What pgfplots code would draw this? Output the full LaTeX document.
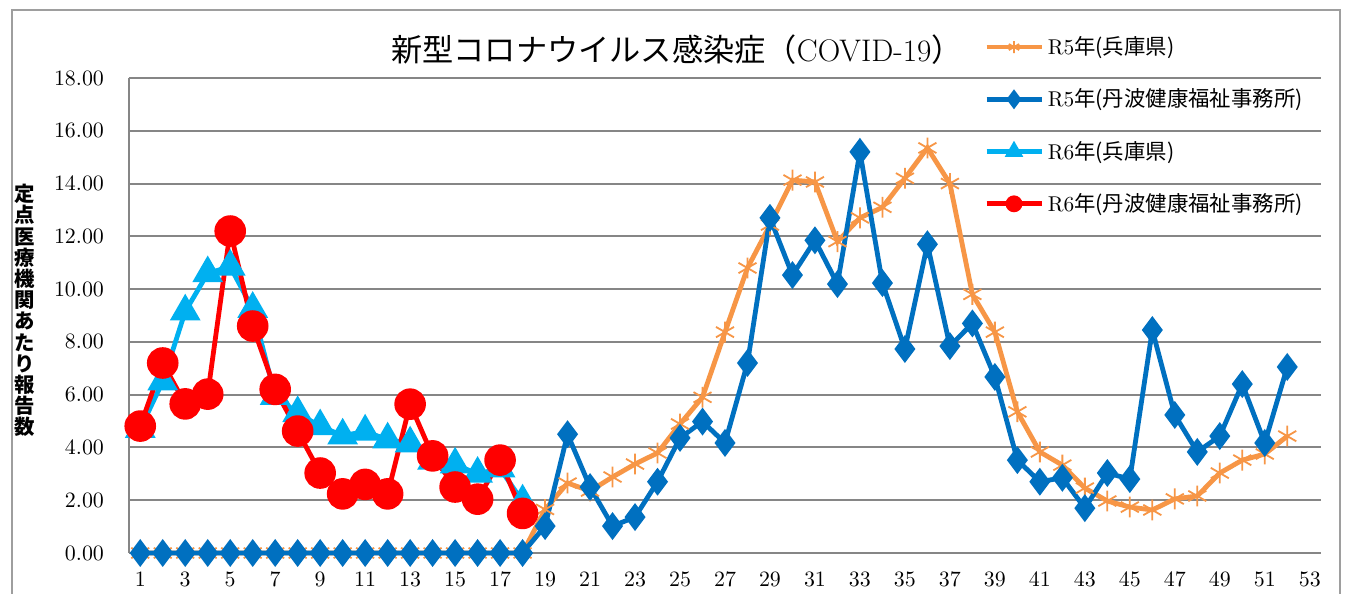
\documentclass[border=0pt]{standalone}
\usepackage{fontspec}
\usepackage{pgfplots}
\pgfplotsset{compat=1.18}
\newfontfamily\jp{Noto Sans CJK JP}
\definecolor{cOr}{RGB}{247,150,70}
\definecolor{cDb}{RGB}{0,112,192}
\definecolor{cLb}{RGB}{0,176,240}
\definecolor{cRd}{RGB}{255,0,0}
\definecolor{cGr}{RGB}{134,134,134}
\begin{document}
\begin{tikzpicture}
\begin{scope}[shift={(-64.5pt,-20.5pt)}, x=0.5pt, y=0.5pt]
\path[use as bounding box] (0,0) rectangle (1346,594);
\fill[white] (0,0) rectangle (1346,594);
\draw[cGr!80, line width=1pt] (12,-20) -- (12,584) -- (1340,584) -- (1340,-20);
\node[font=\fontsize{15.6}{17}\selectfont, inner sep=0pt] at (677,544) {{\jp 新型コロナウイルス感染症（}COVID-19{\jp ）}};
\node[font=\jp\bfseries\fontsize{10.2}{10.6}\selectfont, align=center, inner sep=0pt, anchor=north] at (25,410) {定\\点\\医\\療\\機\\関\\あ\\た\\り\\報\\告\\数};
\end{scope}
\begin{axis}[
  at={(0pt,0pt)}, anchor=south west,
  scale only axis, width=596pt, height=237.5pt,
  xmin=0.5, xmax=53.5, ymin=0, ymax=18,
  xtick={1,3,...,53}, ytick={0,2,...,18},
  major tick length=0pt,
  ymajorgrids, grid style={cGr, line width=1pt},
  axis x line*=bottom, axis y line*=left,
  axis line style={cGr, line width=1pt, -},
  ticklabel style={font=\fontsize{10.5}{12}\selectfont},
  yticklabel style={/pgf/number format/.cd, fixed, fixed zerofill, precision=2, /tikz/.cd, xshift=-9pt},
  xticklabel style={yshift=-6pt},
  clip=false,
  legend style={draw=none, fill=none, at={(0.712,1.105)}, anchor=north west,
    font=\fontsize{10.7}{12}\selectfont, row sep=11.6pt, cells={anchor=west}},
  legend image code/.code={\draw[mark repeat=2, mark phase=2] plot coordinates {(0pt,0pt) (13.75pt,0pt) (27.5pt,0pt)};},
  legend image post style={mark size=3pt},
]
\addplot[cOr, line width=2.4pt, mark=asterisk, mark size=5.2pt, mark options={solid, line width=0.9pt}] coordinates {
(1,0)(2,0)(3,0)(4,0)(5,0)(6,0)(7,0)(8,0)(9,0)(10,0)(11,0)(12,0)(13,0)(14,0)(15,0)(16,0)(17,0)(18,0)
(19,1.65)(20,2.65)(21,2.35)(22,2.88)(23,3.37)(24,3.79)(25,4.89)(26,5.9)(27,8.37)(28,10.8)
(29,12.43)(30,14.13)(31,14.06)(32,11.8)(33,12.7)(34,13.1)(35,14.2)(36,15.35)(37,14.0)(38,9.8)
(39,8.37)(40,5.35)(41,3.83)(42,3.33)(43,2.46)(44,1.97)(45,1.74)(46,1.63)(47,2.05)(48,2.16)
(49,3.03)(50,3.52)(51,3.75)(52,4.43)};
\addlegendentry{R5{\jp 年(兵庫県)}}
\addplot[cDb, line width=2.4pt, mark=diamond*, mark size=5pt, mark options={solid}] coordinates {
(1,0)(2,0)(3,0)(4,0)(5,0)(6,0)(7,0)(8,0)(9,0)(10,0)(11,0)(12,0)(13,0)(14,0)(15,0)(16,0)(17,0)(18,0)
(19,1.02)(20,4.5)(21,2.5)(22,1.02)(23,1.36)(24,2.7)(25,4.36)(26,4.98)(27,4.17)(28,7.2)
(29,12.7)(30,10.53)(31,11.85)(32,10.19)(33,15.2)(34,10.23)(35,7.73)(36,11.7)(37,7.84)(38,8.7)
(39,6.67)(40,3.52)(41,2.7)(42,2.85)(43,1.7)(44,3.03)(45,2.8)(46,8.45)(47,5.23)(48,3.83)
(49,4.43)(50,6.4)(51,4.17)(52,7.05)};
\addlegendentry{R5{\jp 年(丹波健康福祉事務所)}}
\addplot[cLb, line width=2.4pt, mark=triangle*, mark size=6.5pt, mark options={solid}] coordinates {
(1,4.7)(2,6.5)(3,9.15)(4,10.6)(5,10.85)(6,9.25)(7,5.95)(8,5.3)(9,4.8)(10,4.45)(11,4.6)(12,4.3)
(13,4.15)(14,3.5)(15,3.35)(16,3.0)(17,3.2)(18,1.95)};
\addlegendentry{R6{\jp 年(兵庫県)}}
\addplot[cRd, line width=2.4pt, mark=*, mark size=6.7pt, mark options={solid}] coordinates {
(1,4.81)(2,7.2)(3,5.65)(4,6.02)(5,12.2)(6,8.6)(7,6.2)(8,4.62)(9,3.03)(10,2.24)(11,2.6)(12,2.24)
(13,5.64)(14,3.68)(15,2.5)(16,2.04)(17,3.52)(18,1.5)};
\addlegendentry{R6{\jp 年(丹波健康福祉事務所)}}
\end{axis}
\end{tikzpicture}
\end{document}
